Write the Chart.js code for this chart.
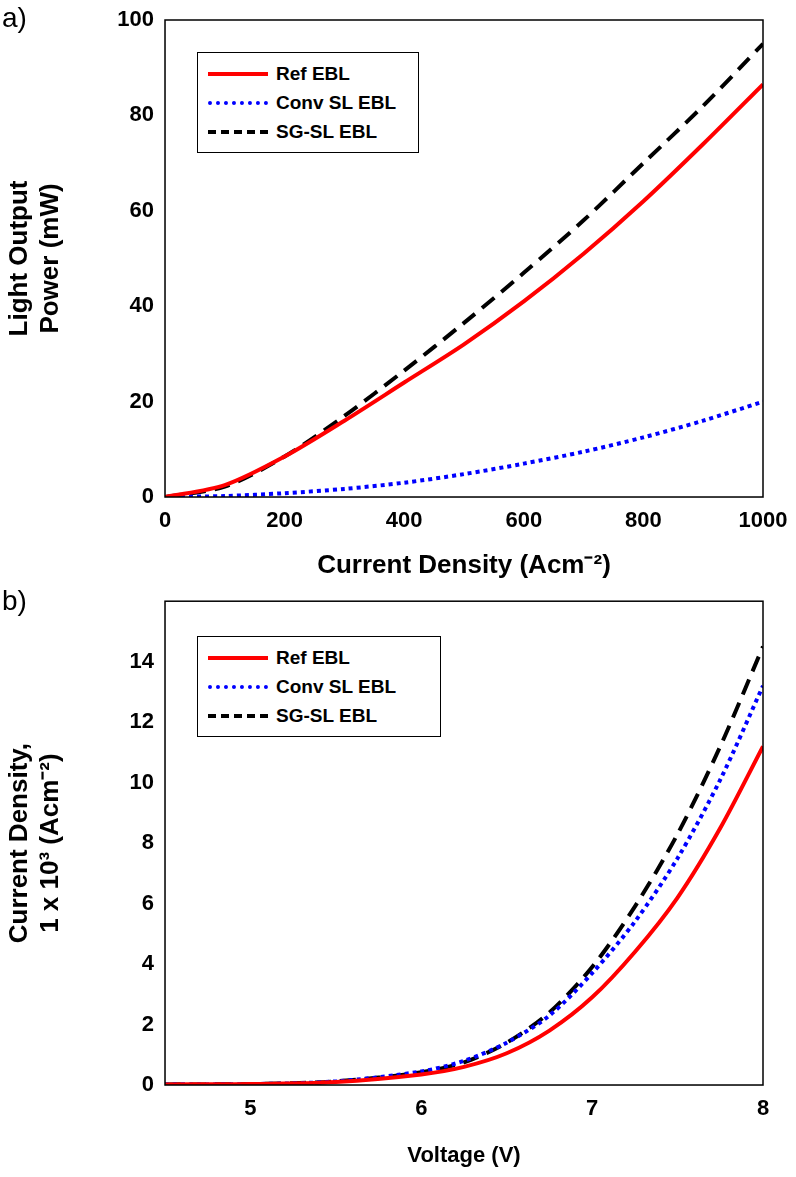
<!DOCTYPE html>
<html><head><meta charset="utf-8">
<script src="https://cdn.jsdelivr.net/npm/chart.js@4"></script>
<style>
body{margin:0;background:#fff;font-family:"Liberation Sans",Arial,sans-serif;}
.wrap{position:absolute;left:0;width:796px;}
.lab{position:absolute;left:2px;font-size:28px;color:#000;}
.leg{position:absolute;border:1px solid #000;background:#fff;padding:6px 10px;font-weight:bold;font-size:19px;}
.leg div{display:flex;align-items:center;height:29px;}
.leg span.s{display:inline-block;width:60px;margin-right:8px;border-top-width:4px;}
</style></head><body>
<div class="wrap" style="top:0;height:585px"><canvas id="c1"></canvas></div>
<div class="wrap" style="top:585px;height:592px"><canvas id="c2"></canvas></div>
<div class="lab" style="top:2px">a)</div>
<div class="lab" style="top:585px">b)</div>
<div class="leg" style="left:197px;top:52px;width:200px">
 <div><span class="s" style="border-top:4px solid #ff0000"></span>Ref EBL</div>
 <div><span class="s" style="border-top:4px dotted #0000ff"></span>Conv SL EBL</div>
 <div><span class="s" style="border-top:4px dashed #000"></span>SG-SL EBL</div>
</div>
<div class="leg" style="left:197px;top:636px;width:222px">
 <div><span class="s" style="border-top:4px solid #ff0000"></span>Ref EBL</div>
 <div><span class="s" style="border-top:4px dotted #0000ff"></span>Conv SL EBL</div>
 <div><span class="s" style="border-top:4px dashed #000"></span>SG-SL EBL</div>
</div>
<script>
var jA = [0, 100, 200, 300, 400, 500, 600, 700, 800, 900, 1000];
var refA = [0, 2.5, 8.5, 16, 24, 32, 41, 51, 62, 74, 86.5];
var convA = [0, 0.2, 0.8, 1.7, 3, 4.8, 7, 9.5, 12.5, 16, 20];
var sgA = [0, 2.2, 8.5, 17, 26.5, 36.5, 47, 58, 70, 82, 95];

var vB = [4.5, 5, 5.5, 6, 6.25, 6.5, 6.75, 7, 7.25, 7.5, 7.75, 8];
var refB = [0.02, 0.03, 0.1, 0.35, 0.6, 1.05, 1.8, 2.9, 4.4, 6.2, 8.5, 11.2];
var convB = [0.02, 0.03, 0.12, 0.45, 0.8, 1.4, 2.3, 3.7, 5.4, 7.5, 10.1, 13.2];
var sgB = [0.02, 0.03, 0.12, 0.42, 0.75, 1.4, 2.4, 3.9, 5.9, 8.3, 11.2, 14.5];

Chart.defaults.font.family = '"Liberation Sans", Arial, sans-serif';
Chart.defaults.font.weight = 'bold';
Chart.defaults.color = '#000';

const boxPlugin = {
  id: 'box',
  afterDraw(chart) {
    const a = chart.chartArea, c = chart.ctx;
    c.save(); c.strokeStyle = '#000'; c.lineWidth = 1.5;
    c.strokeRect(a.left, a.top, a.right - a.left, a.bottom - a.top);
    c.restore();
  }
};

function pts(xs, ys) { return xs.map((x, i) => ({x: x, y: ys[i]})); }

function makeChart(id, xs, series, xopt, yopt, pad) {
  xopt.afterFit = s => { s.height = 88; };
  yopt.afterFit = s => { s.width = 165; };
  new Chart(id, {
    type: 'line',
    data: {
      datasets: [
        {data: pts(xs, series[0]), borderColor: '#ff0000', borderWidth: 4, pointRadius: 0, tension: 0.3},
        {data: pts(xs, series[1]), borderColor: '#0000ff', borderWidth: 4, borderDash: [4, 4], pointRadius: 0, tension: 0.3},
        {data: pts(xs, series[2]), borderColor: '#000', borderWidth: 4, borderDash: [16, 9], pointRadius: 0, tension: 0.3}
      ]
    },
    options: {
      responsive: true, maintainAspectRatio: false, animation: false,
      layout: {padding: pad},
      plugins: {legend: {display: false}, tooltip: {enabled: false}},
      scales: {x: xopt, y: yopt}
    },
    plugins: [boxPlugin]
  });
}

makeChart('c1', jA, [refA, convA, sgA],
  {type: 'linear', min: 0, max: 1000, grid: {display: false}, ticks: {stepSize: 200, font: {size: 22}, callback: v => String(v)},
   title: {display: true, text: 'Current Density (Acm⁻²)', font: {size: 26}}},
  {min: 0, max: 100, grid: {display: false}, ticks: {stepSize: 20, font: {size: 22}},
   title: {display: true, text: ['Light Output', 'Power (mW)'], font: {size: 26}}},
  {top: 20, right: 33, left: 0, bottom: 0});

makeChart('c2', vB, [refB, convB, sgB],
  {type: 'linear', min: 4.5, max: 8, grid: {display: false}, ticks: {font: {size: 22}, callback: v => String(v)},
   afterBuildTicks: ax => { ax.ticks = [5, 6, 7, 8].map(v => ({value: v})); },
   title: {display: true, text: 'Voltage (V)', font: {size: 22}}},
  {min: 0, max: 16, grid: {display: false}, afterBuildTicks: ax => { ax.ticks = [0,2,4,6,8,10,12,14].map(v => ({value: v})); },
   ticks: {font: {size: 22}},
   title: {display: true, text: ['Current Density,', '1 x 10³ (Acm⁻²)'], font: {size: 26}}},
  {top: 5, right: 33, left: 0, bottom: 4});
</script>
</body></html>
